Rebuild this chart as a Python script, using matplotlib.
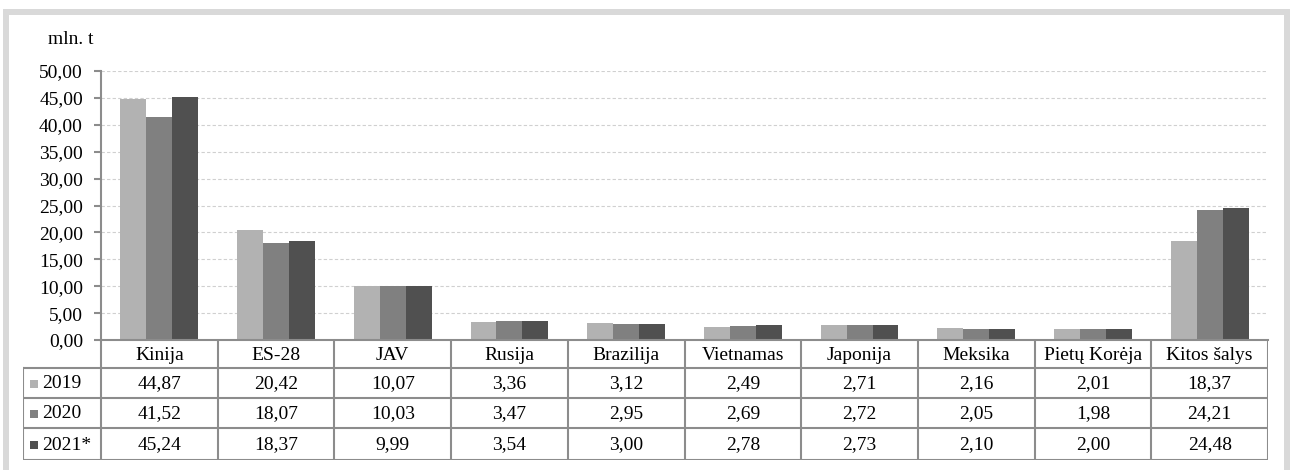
import numpy as np
import matplotlib.pyplot as plt
from matplotlib.patches import Rectangle
from matplotlib.ticker import FuncFormatter

plt.rcParams['font.family'] = ['Liberation Serif', 'DejaVu Serif']

categories = ['Kinija', 'ES-28', 'JAV', 'Rusija', 'Brazilija', 'Vietnamas',
              'Japonija', 'Meksika', 'Pietų Korėja', 'Kitos šalys']
years = ['2019', '2020', '2021*']
v2019 = [44.87, 20.42, 10.07, 3.36, 3.12, 2.49, 2.71, 2.16, 2.01, 18.37]
v2020 = [41.52, 18.07, 10.03, 3.47, 2.95, 2.69, 2.72, 2.05, 1.98, 24.21]
v2021 = [45.24, 18.37, 9.99, 3.54, 3.00, 2.78, 2.73, 2.10, 2.00, 24.48]
series = [v2019, v2020, v2021]
colors = ['#b2b2b2', '#808080', '#505050']

W, H = 1291, 470
fig = plt.figure(figsize=(W / 100, H / 100), dpi=100)

def px(l, t, r, b):
    return [l / W, 1 - b / H, (r - l) / W, (b - t) / H]

# outer frame (light grey, open at the bottom)
fig.patches.append(Rectangle((6 / W, -0.1), (1281 / W), (1 - 12 / H) + 0.1,
                             transform=fig.transFigure, fill=False,
                             edgecolor='#d9d9d9', lw=4.3))

ax = fig.add_axes(px(101, 71, 1268, 340))
x = np.arange(len(categories))
bw = 0.667 / 3
for i, (vals, c) in enumerate(zip(series, colors)):
    ax.bar(x + (i - 1) * bw, vals, width=bw, color=c, zorder=2)
ax.set_xlim(-0.5, len(categories) - 0.5)
ax.set_ylim(0, 50)
ax.set_yticks(np.arange(0, 51, 5))
ax.yaxis.set_major_formatter(FuncFormatter(lambda v, p: f'{v:.2f}'.replace('.', ',')))
ax.set_xticks([])
ax.tick_params(axis='y', labelsize=14, length=5, width=1.5, color='#8c8c8c', pad=8)
for s in ['top', 'right']:
    ax.spines[s].set_visible(False)
for s in ['left', 'bottom']:
    ax.spines[s].set_color('#8c8c8c')
    ax.spines[s].set_linewidth(1.5)
for yv in np.arange(5, 51, 5):
    ax.axhline(yv, color='#d0d0d0', lw=0.8, ls=(0, (3, 2)), zorder=1)
fig.text(48 / W, 1 - 40 / H, 'mln. t', fontsize=14, va='center', ha='left')

# data table below the axis
lc = 116.7
tab = fig.add_axes(px(23, 340, 1268, 460))
x0 = -0.5 - 78 / lc
tab.set_xlim(x0, len(categories) - 0.5)
edges = [0, 28, 58, 88, 120]
tab.set_ylim(120, 0)
tab.axis('off')
lk = dict(color='#8c8c8c', lw=1.5, solid_capstyle='projecting')
for e in edges[1:]:
    tab.plot([x0, len(categories) - 0.5], [e, e], **lk)
tab.plot([x0, x0], [edges[1], edges[-1]], **lk)
for k in range(len(categories) + 1):
    tab.plot([k - 0.5, k - 0.5], [0, edges[-1]], **lk)
for j, name in enumerate(categories):
    tab.text(j, (edges[0] + edges[1]) / 2 + 1, name, ha='center', va='center', fontsize=14)
for i, (yr, vals, c) in enumerate(zip(years, series, colors)):
    yc = (edges[i + 1] + edges[i + 2]) / 2 + 1
    tab.plot(x0 + 10.5 / lc, yc, marker='s', ms=6, color=c, mew=0)
    tab.text(x0 + 19 / lc, yc, yr, ha='left', va='center', fontsize=14)
    for j, v in enumerate(vals):
        tab.text(j, yc, f'{v:.2f}'.replace('.', ','), ha='center', va='center', fontsize=14)

fig.savefig('out.png', dpi=100)
